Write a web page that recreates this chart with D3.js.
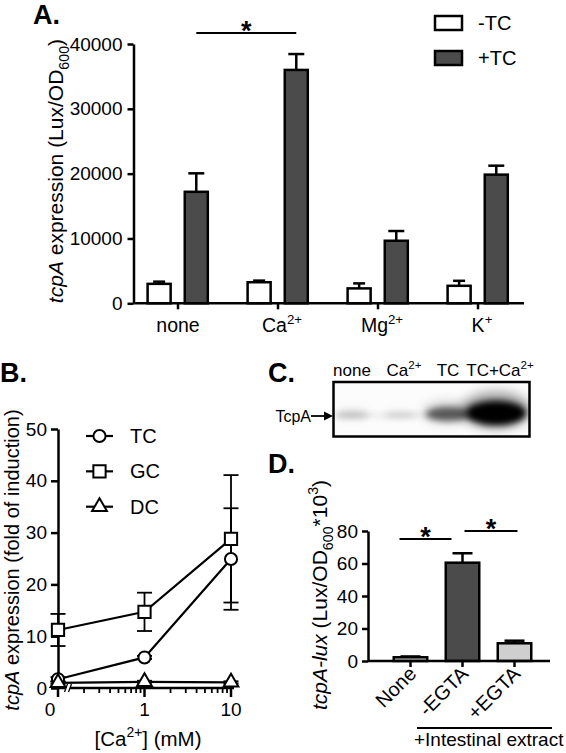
<!DOCTYPE html>
<html><head><meta charset="utf-8">
<script src="https://cdn.jsdelivr.net/npm/d3@7"></script>
<style>
body{margin:0;background:#fff}
svg{display:block}
text{font-family:"Liberation Sans",Arial,Helvetica,sans-serif;fill:#000}
</style>
</head><body>
<svg id="c" width="566" height="753"></svg>
<script>
// ---------------- DATA ----------------
// Panel A
const catsA = ["none","Ca","Mg","K"];
const catBaseA = ["none","Ca","Mg","K"];
const catSupA = ["","2+","2+","+"];
const seriesA = ["-TC","+TC"];
const minusTC = [3000,3250,2300,2700];
const minusTCErr = [340,250,770,770];
const plusTC = [17200,36000,9650,19850];
const plusTCErr = [2850,2450,1500,1380];
const ticksA = [0,10000,20000,30000,40000];

// Panel B
const concB = [0.1,1,10];           // "0" is plotted at 0.1 (axis break)
const concLabelsB = ["0","1","10"];
const seriesB = ["TC","GC","DC"];
const tcB = [1.7,5.9,24.9],  tcErrB = [0.4,0.3,9.8];
const gcB = [11.2,14.7,28.8], gcErrB = [3.1,3.7,12.3];
const dcB = [1.0,1.2,1.1],  dcErrB = [0.2,0.2,0.2];
const ticksB = [0,10,20,30,40,50];

// Panel C (western blot band intensities, relative)
const lanesC = ["none","Ca2+","TC","TC+Ca2+"];
const laneBaseC = ["none","Ca","TC","TC+Ca"];
const laneSupC = ["","2+","","2+"];
const bandC = [0.15,0.1,0.5,1.0];

// Panel D
const catsD = ["None","-EGTA","+EGTA"];
const valsD = [2.3,60.5,10.9];
const errD = [0.5,5.8,1.6];
const ticksD = [0,20,40,60,80];

// ---------------- HELPERS ----------------
const svg = d3.select("#c");
svg.append("rect").attr("width",566).attr("height",753).attr("fill","#fff");
const DARK = "#4b4b4b", LIGHT = "#cfcfcf", SW = 2.5;

function rich(t, parts, fs){
  let shift = 0;
  parts.forEach(p=>{
    const ts = t.append("tspan").text(p.t);
    let target = 0, size = fs;
    if(p.k==="sup"){target=-0.42*fs; size=fs*0.68;}
    if(p.k==="sub"){target=0.28*fs; size=fs*0.68;}
    if(p.k==="i") ts.attr("font-style","italic");
    ts.attr("font-size",size);
    if(target!==shift){ts.attr("dy",target-shift); shift=target;}
  });
}
function styleAxis(g, fs){
  g.selectAll("path.domain").attr("stroke","#000").attr("stroke-width",SW);
  g.selectAll(".tick line").attr("stroke","#000").attr("stroke-width",SW);
  g.selectAll(".tick text").attr("font-size",fs).attr("font-family",'"Liberation Sans",Arial,sans-serif').attr("fill","#000");
}

// ---------------- PANEL A ----------------
(function(){
  const g = svg.append("g");
  const x = d3.scalePoint().domain(catsA).range([178,478]);
  const y = d3.scaleLinear().domain([0,40000]).range([303.3,44]);
  const sub = d3.scaleBand().domain(seriesA).range([-30.4,29.8]).paddingInner(0.38);
  const bw = sub.bandwidth();

  g.append("text").attr("x",33).attr("y",24).attr("font-size",27).attr("font-weight","bold").text("A.");

  const ay = g.append("g").attr("transform","translate(133.5,0)")
    .call(d3.axisLeft(y).tickValues(ticksA).tickSize(6).tickSizeOuter(0).tickPadding(5).tickFormat(d3.format("d")));
  styleAxis(ay,19);

  const data = [];
  catsA.forEach((c,i)=>{
    data.push({c,s:"-TC",v:minusTC[i],e:minusTCErr[i],fill:"#fff",cap:12});
    data.push({c,s:"+TC",v:plusTC[i],e:plusTCErr[i],fill:DARK,cap:16});
  });
  data.forEach(d=>{
    const cx = x(d.c)+sub(d.s)+bw/2;
    g.append("line").attr("x1",cx).attr("x2",cx).attr("y1",y(d.v)).attr("y2",y(d.v+d.e)).attr("stroke","#000").attr("stroke-width",SW);
    g.append("line").attr("x1",cx-d.cap/2).attr("x2",cx+d.cap/2).attr("y1",y(d.v+d.e)).attr("y2",y(d.v+d.e)).attr("stroke","#000").attr("stroke-width",SW);
  });
  g.selectAll("rect.bar").data(data).join("rect").attr("class","bar")
    .attr("x",d=>x(d.c)+sub(d.s)).attr("width",bw)
    .attr("y",d=>y(d.v)).attr("height",d=>y(0)-y(d.v))
    .attr("fill",d=>d.fill).attr("stroke","#000").attr("stroke-width",SW);

  g.append("line").attr("x1",133.5).attr("x2",524).attr("y1",y(0)).attr("y2",y(0)).attr("stroke","#000").attr("stroke-width",SW);
  catsA.forEach((c,i)=>{
    g.append("line").attr("x1",x(c)).attr("x2",x(c)).attr("y1",y(0)).attr("y2",y(0)+6).attr("stroke","#000").attr("stroke-width",SW);
    const t = g.append("text").attr("x",x(c)+(catSupA[i]?4:0)).attr("y",332).attr("text-anchor","middle");
    const parts=[{t:catBaseA[i]}]; if(catSupA[i]) parts.push({t:catSupA[i],k:"sup"});
    rich(t,parts,19.5);
  });

  const sx1 = x("none")+sub("+TC")+bw/2, sx2 = x("Ca")+sub("+TC")+bw/2;
  g.append("line").attr("x1",sx1).attr("x2",sx2).attr("y1",33).attr("y2",33).attr("stroke","#000").attr("stroke-width",2);
  g.append("text").attr("x",(sx1+sx2)/2).attr("y",40).attr("text-anchor","middle").attr("font-size",27).attr("font-weight","bold").text("*");

  const leg = [{s:"-TC",fill:"#fff",y:23},{s:"+TC",fill:DARK,y:58}];
  leg.forEach(l=>{
    g.append("rect").attr("x",435).attr("y",l.y-7).attr("width",27).attr("height",14).attr("fill",l.fill).attr("stroke","#000").attr("stroke-width",SW);
    g.append("text").attr("x",478).attr("y",l.y+7).attr("font-size",20).text(l.s);
  });

  const t = g.append("text").attr("transform","translate(63,171) rotate(-90)").attr("text-anchor","middle");
  rich(t,[{t:"tcpA",k:"i"},{t:" expression (Lux/OD"},{t:"600",k:"sub"},{t:")"}],21);
})();

// ---------------- PANEL B ----------------
(function(){
  const g = svg.append("g");
  const x = d3.scaleLog().domain([0.1,10]).range([58,231]);
  const y = d3.scaleLinear().domain([0,50]).range([688,429]);

  g.append("text").attr("x",0).attr("y",382).attr("font-size",27).attr("font-weight","bold").text("B.");

  const ay = g.append("g").attr("transform","translate(58,0)")
    .call(d3.axisLeft(y).tickValues(ticksB).tickSize(7).tickSizeOuter(0).tickPadding(4));
  styleAxis(ay,19);

  g.append("line").attr("x1",58).attr("x2",234).attr("y1",y(0)).attr("y2",y(0)).attr("stroke","#000").attr("stroke-width",SW);
  const minor = [];
  [0.1,1].forEach(dec=>{ for(let k=2;k<=9;k++) minor.push(dec*k); });
  minor.forEach(m=>{
    g.append("line").attr("x1",x(m)).attr("x2",x(m)).attr("y1",y(0)).attr("y2",y(0)+5).attr("stroke","#000").attr("stroke-width",1.8);
  });
  concB.forEach((c,i)=>{
    g.append("line").attr("x1",x(c)).attr("x2",x(c)).attr("y1",y(0)).attr("y2",y(0)+9).attr("stroke","#000").attr("stroke-width",SW);
    g.append("text").attr("x",x(c)+(i===0?-8:0)).attr("y",716).attr("text-anchor","middle").attr("font-size",19).text(concLabelsB[i]);
  });
  g.append("rect").attr("x",65).attr("y",y(0)-4).attr("width",5).attr("height",8).attr("fill","#fff");
  [64.5,68.5].forEach(bx=>{
    g.append("line").attr("x1",bx).attr("x2",bx+3).attr("y1",y(0)+4).attr("y2",y(0)-4).attr("stroke","#000").attr("stroke-width",1.3);
  });

  const series = [
    {name:"TC",v:tcB,e:tcErrB,sym:d3.symbolCircle,size:115},
    {name:"GC",v:gcB,e:gcErrB,sym:d3.symbolSquare,size:150},
    {name:"DC",v:dcB,e:dcErrB,sym:d3.symbolTriangle,size:95}
  ];
  const line = d3.line().x(d=>x(d[0])).y(d=>y(d[1]));
  series.forEach(s=>{
    const pts = concB.map((c,i)=>[c,s.v[i],s.e[i]]);
    pts.forEach(p=>{
      const cx=x(p[0]);
      g.append("line").attr("x1",cx).attr("x2",cx).attr("y1",y(p[1]-p[2])).attr("y2",y(p[1]+p[2])).attr("stroke","#000").attr("stroke-width",1.8);
      [p[1]-p[2],p[1]+p[2]].forEach(v=>g.append("line").attr("x1",cx-7.5).attr("x2",cx+7.5).attr("y1",y(v)).attr("y2",y(v)).attr("stroke","#000").attr("stroke-width",1.8));
    });
    g.append("path").attr("d",line(pts)).attr("fill","none").attr("stroke","#000").attr("stroke-width",2.2);
  });
  series.forEach(s=>{
    concB.forEach((c,i)=>{
      g.append("path").attr("d",d3.symbol().type(s.sym).size(s.size)())
        .attr("transform",`translate(${x(c)},${y(s.v[i])})`)
        .attr("fill","#fff").attr("stroke","#000").attr("stroke-width",2);
    });
  });
  const ly = d3.scalePoint().domain(seriesB).range([436,506.7]);
  series.forEach(s=>{
    const yy = ly(s.name);
    g.append("line").attr("x1",86).attr("x2",113).attr("y1",yy).attr("y2",yy).attr("stroke","#000").attr("stroke-width",2.2);
    g.append("path").attr("d",d3.symbol().type(s.sym).size(s.size)()).attr("transform",`translate(99.5,${yy})`).attr("fill","#fff").attr("stroke","#000").attr("stroke-width",2);
    g.append("text").attr("x",130).attr("y",yy+7).attr("font-size",20).text(s.name);
  });
  const t = g.append("text").attr("transform","translate(18.5,560) rotate(-90)").attr("text-anchor","middle");
  rich(t,[{t:"tcpA",k:"i"},{t:" expression  (fold of induction)"}],20);
  const xt = g.append("text").attr("x",148).attr("y",746).attr("text-anchor","middle");
  rich(xt,[{t:"[Ca"},{t:"2+",k:"sup"},{t:"] (mM)"}],20.5);
})();

// ---------------- PANEL C ----------------
(function(){
  const g = svg.append("g");
  g.append("text").attr("x",268).attr("y",382).attr("font-size",27).attr("font-weight","bold").text("C.");
  const box = {x:333.5,y:382,w:196,h:54.5};
  const x = d3.scalePoint().domain(lanesC).range([352,496]);
  const defs = svg.append("defs");
  defs.append("clipPath").attr("id","blotclip").append("rect").attr("x",box.x).attr("y",box.y).attr("width",box.w).attr("height",box.h);
  defs.append("filter").attr("id","blur3").attr("x","-50%").attr("y","-100%").attr("width","200%").attr("height","300%")
    .append("feGaussianBlur").attr("stdDeviation",3);
  defs.append("filter").attr("id","blur6").attr("x","-50%").attr("y","-100%").attr("width","200%").attr("height","300%")
    .append("feGaussianBlur").attr("stdDeviation",6);
  const blot = g.append("g").attr("clip-path","url(#blotclip)");
  blot.append("rect").attr("x",box.x).attr("y",box.y).attr("width",box.w).attr("height",box.h).attr("fill","#fcfcfc");
  blot.append("rect").attr("x",box.x+2).attr("y",413.5).attr("width",box.w-4).attr("height",4).attr("fill","#000").attr("opacity",0.09).attr("filter","url(#blur3)");
  const rx = d3.scaleLinear().domain([0,1]).range([14,30]);
  const ry = d3.scaleLinear().domain([0,1]).range([2,12]);
  blot.selectAll("ellipse.halo").data(lanesC).join("ellipse").attr("class","halo")
    .attr("cx",d=>x(d)).attr("cy",(d,i)=>415-ry(bandC[i])*0.4)
    .attr("rx",(d,i)=>rx(bandC[i])*1.15).attr("ry",(d,i)=>ry(bandC[i])*1.5)
    .attr("fill","#000").attr("opacity",(d,i)=>bandC[i]*0.4).attr("filter","url(#blur6)");
  blot.selectAll("ellipse.core").data(lanesC).join("ellipse").attr("class","core")
    .attr("cx",d=>x(d)).attr("cy",(d,i)=>415.5-ry(bandC[i])*0.2)
    .attr("rx",(d,i)=>rx(bandC[i])).attr("ry",(d,i)=>ry(bandC[i]))
    .attr("fill","#000").attr("opacity",(d,i)=>Math.min(1,bandC[i]*1.1)).attr("filter","url(#blur3)");
  g.append("rect").attr("x",box.x).attr("y",box.y).attr("width",box.w).attr("height",box.h).attr("fill","none").attr("stroke","#000").attr("stroke-width",2.5);
  lanesC.forEach((l,i)=>{
    const t = g.append("text").attr("x",x(l)+(laneSupC[i]?4:0)).attr("y",376).attr("text-anchor","middle");
    const parts=[{t:laneBaseC[i]}]; if(laneSupC[i]) parts.push({t:laneSupC[i],k:"sup"});
    rich(t,parts,17);
  });
  g.append("text").attr("x",311).attr("y",421.5).attr("text-anchor","end").attr("font-size",16).text("TcpA");
  g.append("line").attr("x1",311).attr("x2",327).attr("y1",416).attr("y2",416).attr("stroke","#000").attr("stroke-width",1.8);
  g.append("path").attr("d","M333,416 L324,411.5 L324,420.5 Z").attr("fill","#000");
})();

// ---------------- PANEL D ----------------
(function(){
  const g = svg.append("g");
  g.append("text").attr("x",268).attr("y",473).attr("font-size",27).attr("font-weight","bold").text("D.");
  const x = d3.scalePoint().domain(catsD).range([410.5,514.5]);
  const y = d3.scaleLinear().domain([0,80]).range([661,531]);
  const bw = 33.5;
  const fills = [LIGHT,DARK,LIGHT];

  const ay = g.append("g").attr("transform","translate(368,0)")
    .call(d3.axisLeft(y).tickValues(ticksD).tickSize(6).tickSizeOuter(0).tickPadding(4));
  styleAxis(ay,19);

  catsD.forEach((c,i)=>{
    const cx=x(c), top=y(valsD[i]+errD[i]);
    g.append("line").attr("x1",cx).attr("x2",cx).attr("y1",y(valsD[i])).attr("y2",top).attr("stroke","#000").attr("stroke-width",SW);
    g.append("line").attr("x1",cx-10).attr("x2",cx+10).attr("y1",top).attr("y2",top).attr("stroke","#000").attr("stroke-width",SW);
  });
  g.selectAll("rect.bar").data(catsD).join("rect").attr("class","bar")
    .attr("x",d=>x(d)-bw/2).attr("width",bw)
    .attr("y",(d,i)=>y(valsD[i])).attr("height",(d,i)=>y(0)-y(valsD[i]))
    .attr("fill",(d,i)=>fills[i]).attr("stroke","#000").attr("stroke-width",SW);

  g.append("line").attr("x1",368).attr("x2",550).attr("y1",y(0)).attr("y2",y(0)).attr("stroke","#000").attr("stroke-width",SW);
  catsD.forEach(c=>{
    g.append("line").attr("x1",x(c)).attr("x2",x(c)).attr("y1",y(0)).attr("y2",y(0)+6).attr("stroke","#000").attr("stroke-width",SW);
    g.append("text").attr("transform",`translate(${x(c)+7},${y(0)+14}) rotate(-45)`).attr("text-anchor","end").attr("font-size",20).text(c);
  });

  const s1a = x("None")-11, s1b = x("-EGTA")-11;
  const s2a = x("-EGTA")+2, s2b = x("+EGTA")+3;
  g.append("line").attr("x1",s1a).attr("x2",s1b).attr("y1",539).attr("y2",539).attr("stroke","#000").attr("stroke-width",2);
  g.append("line").attr("x1",s2a).attr("x2",s2b).attr("y1",531).attr("y2",531).attr("stroke","#000").attr("stroke-width",2);
  g.append("text").attr("x",(s1a+s1b)/2).attr("y",546).attr("text-anchor","middle").attr("font-size",27).attr("font-weight","bold").text("*");
  g.append("text").attr("x",(s2a+s2b)/2).attr("y",538).attr("text-anchor","middle").attr("font-size",27).attr("font-weight","bold").text("*");

  g.append("line").attr("x1",417).attr("x2",552).attr("y1",728).attr("y2",728).attr("stroke","#000").attr("stroke-width",2);
  g.append("text").attr("x",414).attr("y",746).attr("font-size",19).text("+Intestinal extract");

  const t = g.append("text").attr("transform","translate(327,595) rotate(-90)").attr("text-anchor","middle");
  rich(t,[{t:"tcpA-lux",k:"i"},{t:" (Lux/OD"},{t:"600",k:"sub"},{t:"*10"},{t:"3",k:"sup"},{t:")"}],21);
})();
</script>
</body></html>
